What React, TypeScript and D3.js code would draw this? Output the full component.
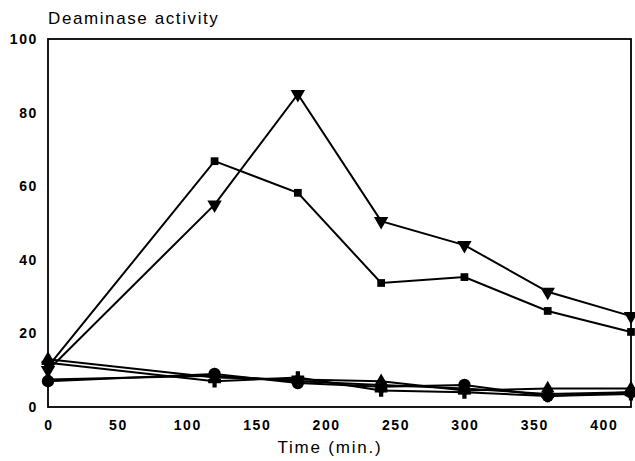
import React from "react";
import * as d3 from "d3";

const times = [0, 120, 180, 240, 300, 360, 420];
const triDownSeries = [10, 55, 85, 50.5, 44, 31.3, 24.7];
const squareSeries = [11, 66.8, 58.2, 33.7, 35.3, 26.1, 20.4];
const circleSeries = [7, 9, 6.5, 5.5, 6, 3, 4];
const triUpSeries = [13, 8, 7.5, 7, 4.5, 5, 5];
const plusSeries = [12, 7, 8, 4.5, 4, 3, 3.5];
const diamondSeries = [7.5, 8.5, 7, 6, 5, 3.5, 4];
const xTicks = [0, 50, 100, 150, 200, 250, 300, 350, 400];
const yTicks = [0, 20, 40, 60, 80, 100];

const W = 635, H = 461;
const L = 48, R = 631, T = 39, B = 407;

export default function App() {
  const x = d3.scaleLinear().domain([0, 420]).range([L, R]);
  const y = d3.scaleLinear().domain([0, 100]).range([B, T]);
  const line = d3.line<number>().x((_, i) => x(times[i])).y((v) => y(v));

  const series: { vals: number[]; sym: d3.SymbolType; size: number; rot?: number }[] = [
    { vals: circleSeries, sym: d3.symbolCircle, size: 120 },
    { vals: diamondSeries, sym: d3.symbolDiamond, size: 80 },
    { vals: plusSeries, sym: d3.symbolCross, size: 90 },
    { vals: triUpSeries, sym: d3.symbolTriangle, size: 80 },
    { vals: squareSeries, sym: d3.symbolSquare, size: 60 },
    { vals: triDownSeries, sym: d3.symbolTriangle, size: 90, rot: 180 },
  ];

  return (
    <svg width={W} height={H} style={{ position: "absolute", left: 0, top: 0, background: "#fff" }}
      fontFamily="'Liberation Sans', Arial, sans-serif">
      <rect x={0} y={0} width={W} height={H} fill="#fff" />
      <text x={48} y={24} fontSize={17} letterSpacing={1.6} fill="#000">Deaminase activity</text>
      <rect x={L} y={T} width={R - L} height={B - T} fill="none" stroke="#000" strokeWidth={1.8} />
      {yTicks.map((t) => (
        <text key={t} x={L - 10} y={y(t) + 5} textAnchor="end" fontSize={14} letterSpacing={1.6} fontWeight="bold">{t}</text>
      ))}
      {xTicks.map((t) => (
        <text key={t} x={x(t) + 1} y={B + 23} textAnchor="middle" fontSize={14} letterSpacing={1.6} fontWeight="bold">{t}</text>
      ))}
      <text x={330} y={453} textAnchor="middle" fontSize={17} letterSpacing={1.8}>Time (min.)</text>
      {series.map((s, si) => (
        <g key={si}>
          <path d={line(s.vals) || ""} fill="none" stroke="#000" strokeWidth={2} />
          {s.vals.map((v, i) => (
            <path key={i} d={d3.symbol().type(s.sym).size(s.size)() || ""}
              transform={`translate(${x(times[i])},${y(v)}) rotate(${s.rot || 0})`} fill="#000" />
          ))}
        </g>
      ))}
    </svg>
  );
}
